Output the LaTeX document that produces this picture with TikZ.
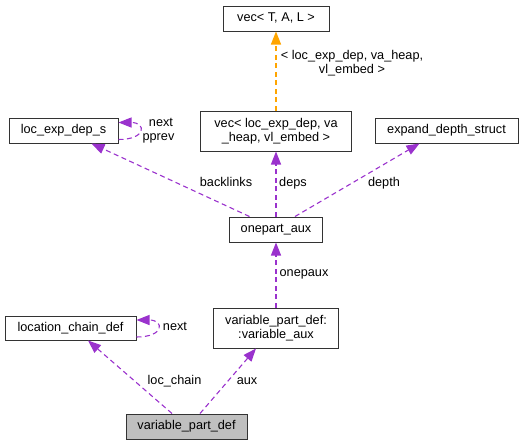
\documentclass[tikz,border=0pt]{standalone}
\usepackage{fontspec}
\setmainfont{Liberation Sans}
\usetikzlibrary{arrows.meta,positioning}
\definecolor{depPurple}{RGB}{154,50,205}
\definecolor{tmplOrange}{RGB}{255,165,0}
\definecolor{boxGray}{RGB}{191,191,191}
\tikzset{
    >={Triangle[length=13pt,width=10pt]},
    every node/.append style={font=\fontsize{12.7}{13.5}\selectfont,align=center},
    cls/.style={rectangle,draw=black!80,line width=1pt,fill=white,inner sep=0pt,minimum width=#1},
    cls/.default=100pt,
    one/.style={minimum height=25pt,text height=9pt,text depth=2.5pt},
    two/.style={minimum height=40pt},
    cur/.style={fill=boxGray},
    dep/.style={draw=depPurple,line width=1.1pt,dash pattern=on 5pt off 3.5pt,->,color=depPurple},
    tmpl/.style={draw=tmplOrange,line width=1.1pt,dash pattern=on 5pt off 3.5pt,->,color=tmplOrange},
    lbl/.style={inner sep=0pt,text height=9pt,text depth=2.5pt},
}
\begin{document}
\begin{tikzpicture}[x=1pt,y=-1pt]
    \useasboundingbox (0,0) rectangle (523,445);
    \node[cls=106pt,one] (vecTAL) at (276,18.5) {vec< T, A, L >};
    \node[cls=151pt,two] (vecdep) at (276,131) {vec< loc\_exp\_dep, va\\\_heap, vl\_embed >};
    \node[cls=109pt,one] (les) at (63.5,130.5) {loc\_exp\_dep\_s};
    \node[cls=143pt,one] (eds) at (446.5,130.5) {expand\_depth\_struct};
    \node[cls=93pt,one] (opa) at (276,229.5) {onepart\_aux};
    \node[cls=131pt,one,minimum height=24pt] (lcd) at (70.5,328) {location\_chain\_def};
    \node[cls=125pt,two] (vaux) at (276,328) {variable\_part\_def:\\:variable\_aux};
    \node[cls=121pt,one,cur] (vpd) at (186.5,426.5) {variable\_part\_def};

    \draw[tmpl] (vecdep.north) -- (vecTAL.south);
    \node[lbl] (lvec) at (352,70) {< loc\_exp\_dep, va\_heap,\\vl\_embed >};

    \draw[dep] ([xshift=-26.5pt]opa.north) -- ([xshift=28pt]les.south);
    \node[lbl] (lback) at (226,183) {backlinks};
    \draw[dep] (opa.north) -- (vecdep.south);
    \node[lbl] (ldeps) at (293,183) {deps};
    \draw[dep] ([xshift=19pt]opa.north) -- ([xshift=-27pt]eds.south);
    \node[lbl] (ldepth) at (384,183) {depth};

    \draw[dep] ([yshift=-9pt]les.east) .. controls ([xshift=28pt,yshift=-9pt]les.east) and ([xshift=28pt,yshift=8pt]les.east) .. ([yshift=8pt]les.east);
    \node[lbl] (lnext) at (161,123) {next};
    \node[lbl] (lpprev) at (158.5,137) {pprev};

    \draw[dep] (vaux.north) -- (opa.south);
    \node[lbl] (lonep) at (304,273) {onepaux};

    \draw[dep] ([yshift=-9pt]lcd.east) .. controls ([xshift=28pt,yshift=-9pt]lcd.east) and ([xshift=28pt,yshift=8pt]lcd.east) .. ([yshift=8pt]lcd.east);
    \node[lbl] (lnext2) at (175,327) {next};

    \draw[dep] ([xshift=-14.5pt]vpd.north) -- ([xshift=17.5pt]lcd.south);
    \node[lbl] (lchain) at (174.5,381) {loc\_chain};
    \draw[dep] ([xshift=13.5pt]vpd.north) -- ([xshift=-20pt]vaux.south);
    \node[lbl] (laux) at (247,381) {aux};
\end{tikzpicture}
\end{document}
